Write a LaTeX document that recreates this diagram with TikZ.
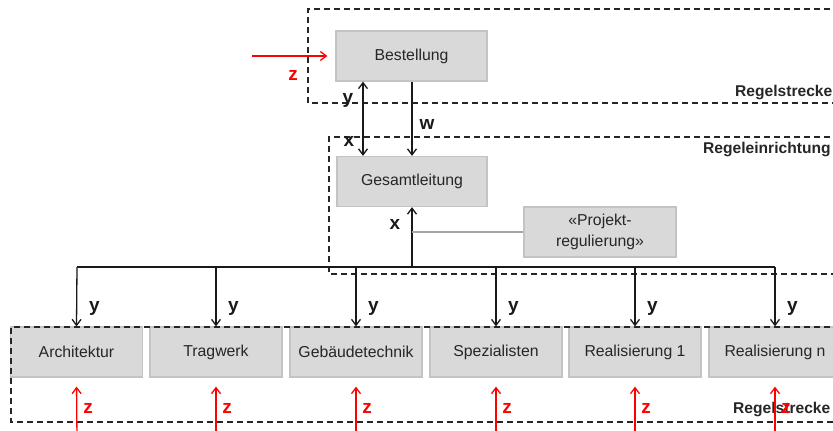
\documentclass[tikz,border=0pt]{standalone}
\usepackage{fontspec}
\setmainfont{Liberation Sans}
\usetikzlibrary{arrows.meta}
\definecolor{boxfill}{HTML}{D9D9D9}
\definecolor{boxline}{HTML}{C4C4C4}
\definecolor{linkgray}{HTML}{A6A6A6}
\definecolor{dashgray}{HTML}{262626}
\definecolor{zred}{HTML}{FF0000}
\begin{document}
\begin{tikzpicture}[x=1pt,y=-1pt,
  unit/.style={draw=boxline,line width=1.2pt,fill=boxfill,inner sep=0pt,
    minimum height=50pt,font=\fontsize{15.8}{19}\selectfont,text=black!85},
  subunit/.style={unit,minimum width=132pt},
  zone/.style={draw=dashgray,line width=1.4pt,dash pattern=on 6pt off 4pt},
  zonelabel/.style={anchor=base west,inner sep=0pt,font=\fontsize{15.6}{19}\bfseries\selectfont,text=black!85},
  sig/.style={anchor=base,inner sep=0pt,font=\fontsize{19}{20}\bfseries\selectfont,text=black!90},
  zsig/.style={sig,text=zred},
  flow/.style={draw=black!90,line width=1.3pt,-{Straight Barb[length=6pt,width=9pt]}},
  dflow/.style={flow,{Straight Barb[length=6pt,width=9pt]}-{Straight Barb[length=6pt,width=9pt]}},
  disturb/.style={draw=zred,line width=1.3pt,-{Straight Barb[length=6pt,width=9pt]}}]
\useasboundingbox (0,0) rectangle (833,431);
\clip (0,0) rectangle (833,431);

% controller and order blocks
\node[unit,minimum width=151pt] (best) at (411.5,56) {Bestellung};
\node[unit,minimum width=150pt] (ges) at (412,181.5) {Gesamtleitung};
\node[unit,minimum width=152pt,align=center,font=\fontsize{15.8}{21}\selectfont] (proj) at (600,232) {«Projekt-\\regulierung»};

% plant sub-units
\node[subunit] (s1) at (76.5,352) {Architektur};
\node[subunit] (s2) at (216,352) {Tragwerk};
\node[subunit] (s3) at (356,352) {Gebäudetechnik};
\node[subunit] (s4) at (496,352) {Spezialisten};
\node[subunit] (s5) at (635,352) {Realisierung 1};
\node[subunit] (s6) at (775,352) {Realisierung n};

% dashed zones
\draw[zone] (850,9) -- (308,9) -- (308,103) -- (850,103);
\draw[zone] (850,137) -- (329,137) -- (329,274) -- (850,274);
\draw[zone] (850,327) -- (11,327) -- (11,422) -- (850,422);
\node[zonelabel] (lblA) at (735,96) {Regelstrecke};
\node[zonelabel] (lblB) at (703,153) {Regeleinrichtung};
\node[zonelabel] (lblC) at (733,413) {Regelstrecke};

% links between order and controller
\coordinate (dx) at (363,0);
\coordinate (wx) at (412,0);
\draw[dflow] (best.south -| dx) -- (ges.north -| dx);
\draw[flow] (best.south -| wx) -- (ges.north -| wx);
\node[sig] (ly) at (348,103) {y};
\node[sig] (lx) at (349,146) {x};
\node[sig] (lw) at (427,129) {w};

% disturbance on the order
\coordinate (zin) at (252,56);
\draw[disturb,shorten >=8pt] (zin) -- (best.west);
\node[zsig] (lz0) at (293,80) {z};

% distribution bus to the sub-units
\coordinate (bus) at (412,267);
\coordinate (tap) at (412,232);
\foreach \i/\x in {1/77,2/216,3/356,4/496,5/635,6/775}{
  \coordinate (b\i) at (\x,267);
}
\draw[black!90,line width=1.4pt] (b1) -- (b6);
\draw[flow] (bus) -- (ges.south);
\draw[linkgray,line width=1.3pt] (tap) -- (tap -| proj.west);
\node[sig] (lxg) at (395,229) {x};

\foreach \i/\x in {1/77,2/216,3/356,4/496,5/635,6/775}{
  \draw[flow] (b\i) -- (s\i.north);
  \node[sig] (ys\i) at (\x+17.5,311) {y};
  \coordinate (zb\i) at (\x,440);
  \draw[disturb,shorten >=9pt] (zb\i) -- (s\i.south);
  \node[zsig] (zs\i) at (\x+11,413) {z};
}
\end{tikzpicture}
\end{document}
